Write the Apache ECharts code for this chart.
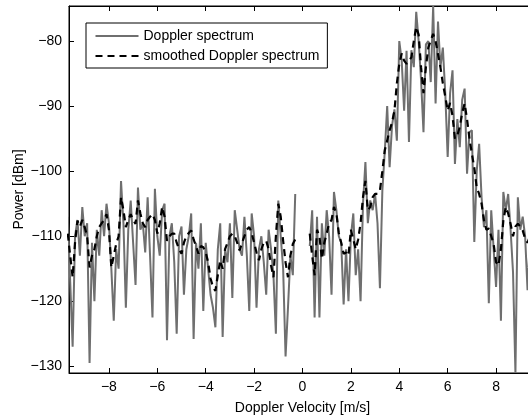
<!DOCTYPE html>
<html>
<head>
<meta charset="utf-8">
<script src="https://cdn.jsdelivr.net/npm/echarts@6/dist/echarts.min.js"></script>
<style>
html,body{margin:0;padding:0;background:#fff;}
#chart{width:528px;height:415px;}
</style>
</head>
<body>
<div id="chart"></div>
<script>
// Doppler velocity grid [m/s] (negative side, before the gap at 0)
const velLeft = [-9.7,-9.6,-9.5,-9.4,-9.3,-9.2,-9.1,-9.0,-8.9,-8.8,-8.7,-8.6,-8.5,-8.4,-8.3,-8.2,-8.1,-8.0,-7.9,-7.8,-7.7,-7.6,-7.5,-7.4,-7.3,-7.2,-7.1,-7.0,-6.9,-6.8,-6.7,-6.6,-6.5,-6.4,-6.3,-6.2,-6.1,-6.0,-5.9,-5.8,-5.7,-5.6,-5.5,-5.4,-5.3,-5.2,-5.1,-5.0,-4.9,-4.8,-4.7,-4.6,-4.5,-4.4,-4.3,-4.2,-4.1,-4.0,-3.9,-3.8,-3.7,-3.6,-3.5,-3.4,-3.3,-3.2,-3.1,-3.0,-2.9,-2.8,-2.7,-2.6,-2.5,-2.4,-2.3,-2.2,-2.1,-2.0,-1.9,-1.8,-1.7,-1.6,-1.5,-1.4,-1.3,-1.2,-1.1,-1.0,-0.9,-0.8,-0.7,-0.6,-0.5,-0.4,-0.3];
// positive side, after the gap
const velRight = [0.3,0.4,0.5,0.6,0.7,0.8,0.9,1.0,1.1,1.2,1.3,1.4,1.5,1.6,1.7,1.8,1.9,2.0,2.1,2.2,2.3,2.4,2.5,2.6,2.7,2.8,2.9,3.0,3.1,3.2,3.3,3.4,3.5,3.6,3.7,3.8,3.9,4.0,4.1,4.2,4.3,4.4,4.5,4.6,4.7,4.8,4.9,5.0,5.1,5.2,5.3,5.4,5.5,5.6,5.7,5.8,5.9,6.0,6.1,6.2,6.3,6.4,6.5,6.6,6.7,6.8,6.9,7.0,7.1,7.2,7.3,7.4,7.5,7.6,7.7,7.8,7.9,8.0,8.1,8.2,8.3,8.4,8.5,8.6,8.7,8.8,8.9,9.0,9.1,9.2,9.3,9.4,9.5,9.6,9.7];

// Doppler spectrum [dBm]
const rawLeft = [
-107,-117,-127,-110,-107.5,-113,-105.5,-110,-108,-129.5,
-111,-120,-109,-113,-106,-110,-105,-108,-115,-123,
-112,-115,-101.5,-108,-121,-109,-104.5,-111,-117.5,-102.5,
-109,-108,-112.5,-104,-113,-122.5,-102.7,-110,-113,-106,
-105,-126,-110,-108,-114,-125,-110,-108.5,-119,-112,
-110,-106.5,-125.8,-111,-115,-108,-121.5,-111,-115,-119,
-121,-124,-112,-108,-125.5,-112,-114,-108,-119.5,-106,
-109,-112,-113,-107,-113,-121.5,-106.5,-110,-121,-112,
-110,-114,-119,-109,-112,-116,-125,-104.5,-110,-115,
-128.5,-121,-113,-116,-103.5];
const rawRight = [
-111.5,-106,-122.5,-107,-122.5,-108,-113,-106,-110,-119,
-103.2,-106,-110,-111,-120.5,-112,-120,-110,-106.5,-116,
-112,-120,-105,-98.6,-108,-104.5,-106,-103.5,-108,-118,
-103,-97,-90,-99.4,-93,-90.5,-95.3,-80,-83,-90.7,
-81.5,-95.5,-81.4,-84,-75.5,-80,-86,-94,-80.5,-80,
-86.3,-74.6,-89.6,-77,-84,-81,-88,-97.8,-88,-84.5,
-98.9,-92,-96.3,-89,-87.3,-100.4,-94,-93.7,-110.9,-100,
-95.8,-104,-108.6,-106,-120.3,-106,-112,-117.8,-109,-123,
-103.2,-106,-103.5,-109,-115.5,-131,-104,-109,-107,-110,
-118.3,-110,-112,-109,-111];

// smoothed Doppler spectrum [dBm]
const smoothLeft = [
-109.6,-113,-116.3,-111,-107.6,-108.5,-107.5,-108.6,-110,-114.8,
-113,-112,-110,-108.6,-108,-107.5,-106.6,-109,-114.8,-113,
-111.2,-110,-104,-106,-108.6,-107.5,-106.6,-107.5,-108.1,-104.5,
-106.5,-108,-108.6,-107.5,-107,-106.6,-107.5,-109.6,-108,-105.5,
-107,-110.7,-110,-109.6,-109.6,-111,-112,-112.7,-111,-110,
-109.5,-109.1,-110.5,-111.5,-112.7,-111.5,-111.7,-112.5,-114,-116.5,
-117.8,-118.4,-116,-113.7,-115,-112,-111,-110,-109.6,-110,
-111,-112.2,-111,-110,-109,-108.6,-109.5,-111,-112.5,-113.7,
-112,-111,-110.7,-112,-114.5,-116.3,-110,-105,-107,-110.7,
-114,-116.3,-113,-111.2,-110.5];
const smoothRight = [
-109.6,-113,-116,-109,-110,-113.5,-111,-109.6,-108,-107.5,
-105.5,-106.5,-109.5,-111,-112.7,-112.5,-113,-109,-110.5,-112,
-110.5,-108,-104,-101.5,-106,-105.5,-104,-103.5,-103.5,-103,
-100,-96.8,-95.3,-93.7,-92.5,-90.7,-86.5,-83.5,-81.9,-83,
-83.5,-83,-82.5,-80,-77.8,-79,-84,-88,-84,-81,
-79.9,-78.9,-80,-82,-84,-86.5,-88.5,-90.7,-89.5,-91.5,
-95,-94.5,-93.2,-91,-89.6,-92,-95,-97.3,-99.5,-102.5,
-103.5,-105,-107.6,-109,-108.8,-110,-111.2,-114,-114.5,-112,
-107.6,-105.5,-106.5,-108.1,-110,-108.5,-108.1,-108.5,-109.1,-110.4,
-111,-110,-111,-110,-111];

const xTicks = [-8,-6,-4,-2,0,2,4,6,8];
const yTicks = [-130,-120,-110,-100,-90,-80];
const xMin = -9.65, xMax = 9.65, yMin = -131.03, yMax = -74.6;

function join(vl, pl, vr, pr) {
  const out = vl.map((v, i) => [v, pl[i]]);
  out.push([0, null]);
  return out.concat(vr.map((v, i) => [v, pr[i]]));
}
const fmt = v => String(v).replace('-', '\u2212');
const FONT = 'Liberation Sans, Arial, Helvetica, sans-serif';

const chart = echarts.init(document.getElementById('chart'), null, {renderer: 'canvas'});
chart.setOption({
  animation: false,
  backgroundColor: '#fff',
  textStyle: {fontFamily: FONT},
  grid: {left: 69, width: 467, top: 6, height: 367, containLabel: false, outerBoundsMode: 'none',
         show: true, borderColor: '#000', borderWidth: 1},
  legend: {
    left: 86, top: 23, orient: 'vertical',
    itemWidth: 43, itemHeight: 14, itemGap: 6,
    padding: [6, 8, 5, 8.5],
    borderColor: '#000', borderWidth: 1, backgroundColor: '#fff',
    itemStyle: {opacity: 0},
    textStyle: {fontFamily: FONT, fontSize: 14, color: '#000'},
    data: ['Doppler spectrum', 'smoothed Doppler spectrum']
  },
  xAxis: [{
    type: 'value', min: xMin, max: xMax,
    name: 'Doppler Velocity [m/s]', nameLocation: 'middle', nameGap: 28,
    nameTextStyle: {fontFamily: FONT, fontSize: 14, color: '#000'},
    axisLine: {show: true, onZero: false, lineStyle: {color: '#000', width: 1}},
    axisTick: {show: true, inside: true, length: 5, lineStyle: {color: '#000'}, customValues: xTicks},
    axisLabel: {fontFamily: FONT, fontSize: 14, color: '#000', margin: 7, customValues: xTicks, formatter: fmt},
    splitLine: {show: false}
  }, {
    type: 'value', min: xMin, max: xMax, position: 'top',
    axisLine: {show: true, onZero: false, lineStyle: {color: '#000', width: 1}},
    axisTick: {show: true, inside: true, length: 5, lineStyle: {color: '#000'}, customValues: xTicks},
    axisLabel: {show: false},
    splitLine: {show: false}
  }],
  yAxis: [{
    type: 'value', min: yMin, max: yMax,
    name: 'Power [dBm]', nameLocation: 'middle', nameGap: 43, nameMoveOverlap: false,
    nameTextStyle: {fontFamily: FONT, fontSize: 14, color: '#000'},
    axisLine: {show: true, onZero: false, lineStyle: {color: '#000', width: 1}},
    axisTick: {show: true, inside: true, length: 5, lineStyle: {color: '#000'}, customValues: yTicks},
    axisLabel: {fontFamily: FONT, fontSize: 14, color: '#000', margin: 7, customValues: yTicks, formatter: fmt},
    splitLine: {show: false}
  }],
  series: [{
    name: 'Doppler spectrum', type: 'line', symbol: 'none',
    data: join(velLeft, rawLeft, velRight, rawRight),
    lineStyle: {color: '#6f6f6f', width: 2},
    itemStyle: {color: '#6f6f6f'},
    connectNulls: false
  }, {
    name: 'smoothed Doppler spectrum', type: 'line', symbol: 'none',
    data: join(velLeft, smoothLeft, velRight, smoothRight),
    lineStyle: {color: '#000', width: 2.2, type: [7, 5]},
    itemStyle: {color: '#000'},
    connectNulls: false
  }]
});
</script>
</body>
</html>
